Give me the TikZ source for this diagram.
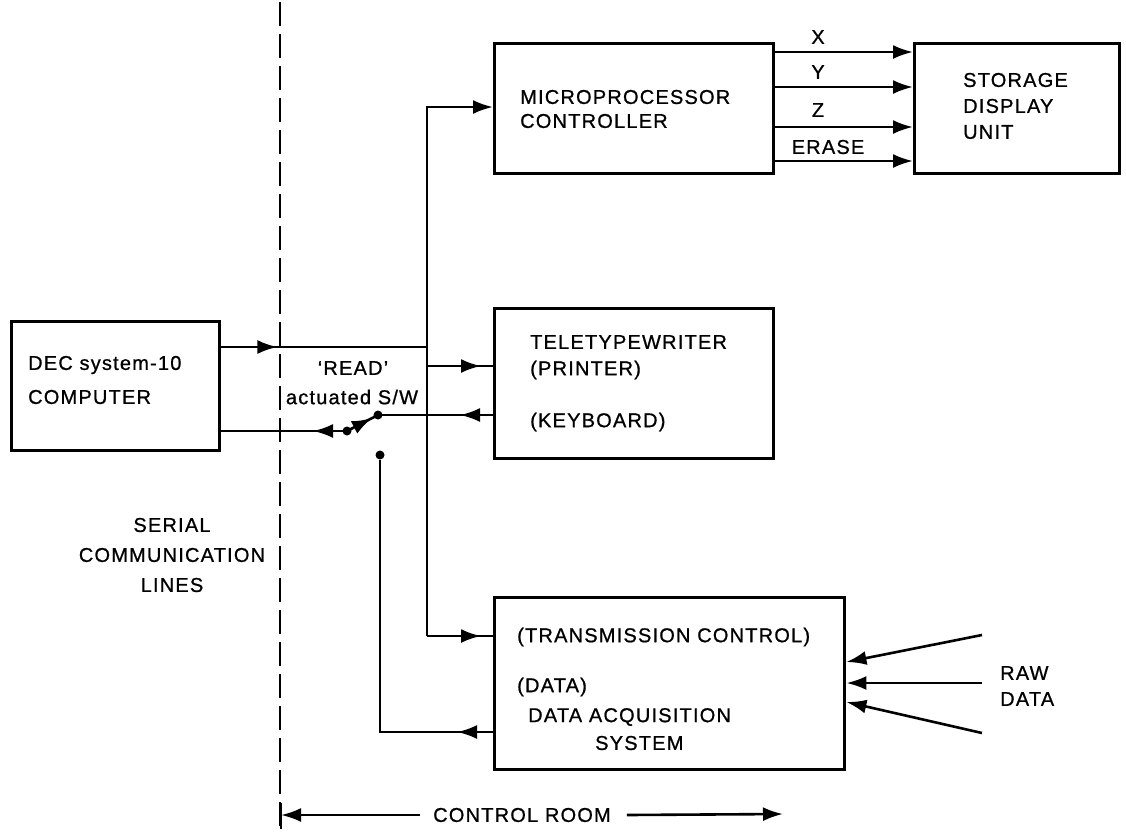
\documentclass[tikz,border=0pt]{standalone}
\usepackage{fontspec}
\newfontfamily\lab{Liberation Sans}[LetterSpace=6, FakeBold=0.8]
\usetikzlibrary{arrows.meta,decorations.markings}
\tikzset{
  box/.style={draw, line width=3.4pt, anchor=north west, inner sep=0pt},
  txt/.style={font=\lab\fontsize{20}{24}\selectfont, inner sep=0pt},
  wire/.style={line width=2.6pt},
  tip/.style={-{Latex[length=20pt,width=14pt]}},
  midarr/.style={postaction={decorate}, decoration={markings, mark=at position #1 with {\arrow{Latex[length=20pt,width=14pt]}}}},
  contact/.style={circle, fill, inner sep=0pt, minimum size=9pt},
}
\begin{document}
\begin{tikzpicture}[x=1pt,y=-1pt]
\useasboundingbox (0,0) rectangle (1126,831);
\fill[white] (0,0) rectangle (1126,831);

% boxes
\node[box, minimum width=279pt, minimum height=130pt] (micro) at (493,42) {};
\node[box, minimum width=205pt, minimum height=130pt] (stor) at (913,42) {};
\node[box, minimum width=208pt, minimum height=129pt] (dec) at (10,320) {};
\node[box, minimum width=279pt, minimum height=150pt] (tele) at (493,307) {};
\node[box, minimum width=350pt, minimum height=172pt] (daq) at (493,596) {};

% texts in boxes
\node[txt, anchor=west] (t1) at (520,97) {MICROPROCESSOR};
\node[txt, anchor=west] (t2) at (520,121) {CONTROLLER};
\node[txt, anchor=west] (t3) at (963,80) {STORAGE};
\node[txt, anchor=west] (t4) at (963,106) {DISPLAY};
\node[txt, anchor=west] (t5) at (963,132) {UNIT};
\node[txt, anchor=west] (t6) at (28,365) {DEC system-10};
\node[txt, anchor=west] (t7) at (28,397) {COMPUTER};
\node[txt, anchor=west] (t8) at (530,342) {TELETYPEWRITER};
\node[txt, anchor=west] (t9) at (530,370) {(PRINTER)};
\node[txt, anchor=west] (t10) at (530,422) {(KEYBOARD)};
\node[txt, anchor=west] (t11) at (517,637) {(TRANSMISSION CONTROL)};
\node[txt, anchor=west] (t12) at (517,687) {(DATA)};
\node[txt, anchor=west] (t13) at (528,717) {DATA ACQUISITION};
\node[txt, anchor=west] (t14) at (595,743) {SYSTEM};

% free labels
\node[txt] (rd) at (353,368) {‘READ’};
\node[txt] (act) at (352,397) {actuated S/W};
\node[txt, align=center] (serial) at (172,555) {SERIAL\\[6pt]COMMUNICATION\\[6pt]LINES};
\node[txt] (lx) at (818,37) {X};
\node[txt] (ly) at (818,72) {Y};
\node[txt] (lz) at (818,110) {Z};
\node[txt] (le) at (828,147) {ERASE};
\node[txt, anchor=west] (raw) at (1000,673) {RAW};
\node[txt, anchor=west] (rawd) at (1000,699) {DATA};
\node[txt] (cr) at (522,815) {CONTROL ROOM};

% dashed boundary
\draw[line width=2.4pt, dash pattern=on 24pt off 8pt] (280,2) -- (280,831);

% coordinates
\coordinate (busTop) at (427,107);
\coordinate (busBot) at (427,636);
\coordinate (busDec) at (427,347);
\coordinate (busTele) at (427,366);
\coordinate (pivot) at (347,431);
\coordinate (upc) at (378,415);
\coordinate (lowc) at (380,455);
\coordinate (lowcorner) at (380,732);

% DEC outputs
\draw[wire, midarr=56pt] (dec.east |- busDec) -- (busDec);
\draw[wire, midarr=34pt] (pivot) -- (dec.east |- pivot);

% bus
\draw[wire, tip] (busBot) -- (busTop) -- (micro.west |- busTop);
\draw[wire, midarr=54pt] (busTele) -- (tele.west |- busTele);
\draw[wire, midarr=54pt] (busBot) -- (daq.west |- busBot);

% keyboard / switch
\draw[wire, midarr=33pt] (tele.west |- upc) -- (upc);
\draw[wire, midarr=28pt] (pivot) -- (upc);
\node[contact] (cp) at (pivot) {};
\node[contact] (cu) at (upc) {};
\node[contact] (cl) at (lowc) {};
\draw[wire, midarr=36pt] (daq.west |- lowcorner) -- (lowcorner) -- (cl);

% micro -> storage
\foreach \yy in {52,87,127,161}{
  \draw[wire, tip] (micro.east |- 0,\yy) -- (stor.west |- 0,\yy);
}

% raw data
\coordinate (r1) at (982,635);
\coordinate (r2) at (982,683);
\coordinate (r3) at (982,733);
\draw[wire, tip] (r1) -- (daq.east |- 0,662);
\draw[wire, tip] (r2) -- (daq.east |- 0,683);
\draw[wire, tip] (r3) -- (daq.east |- 0,702);

% control room
\coordinate (crl) at (281,815);
\coordinate (crr) at (783,814);
\draw[line width=2.4pt] (281,803) -- (281,829);
\draw[wire, tip] (cr.west) ++(-13,0) -- (crl);
\draw[wire, tip] (cr.east) ++(16,0) -- (crr);
\end{tikzpicture}
\end{document}
